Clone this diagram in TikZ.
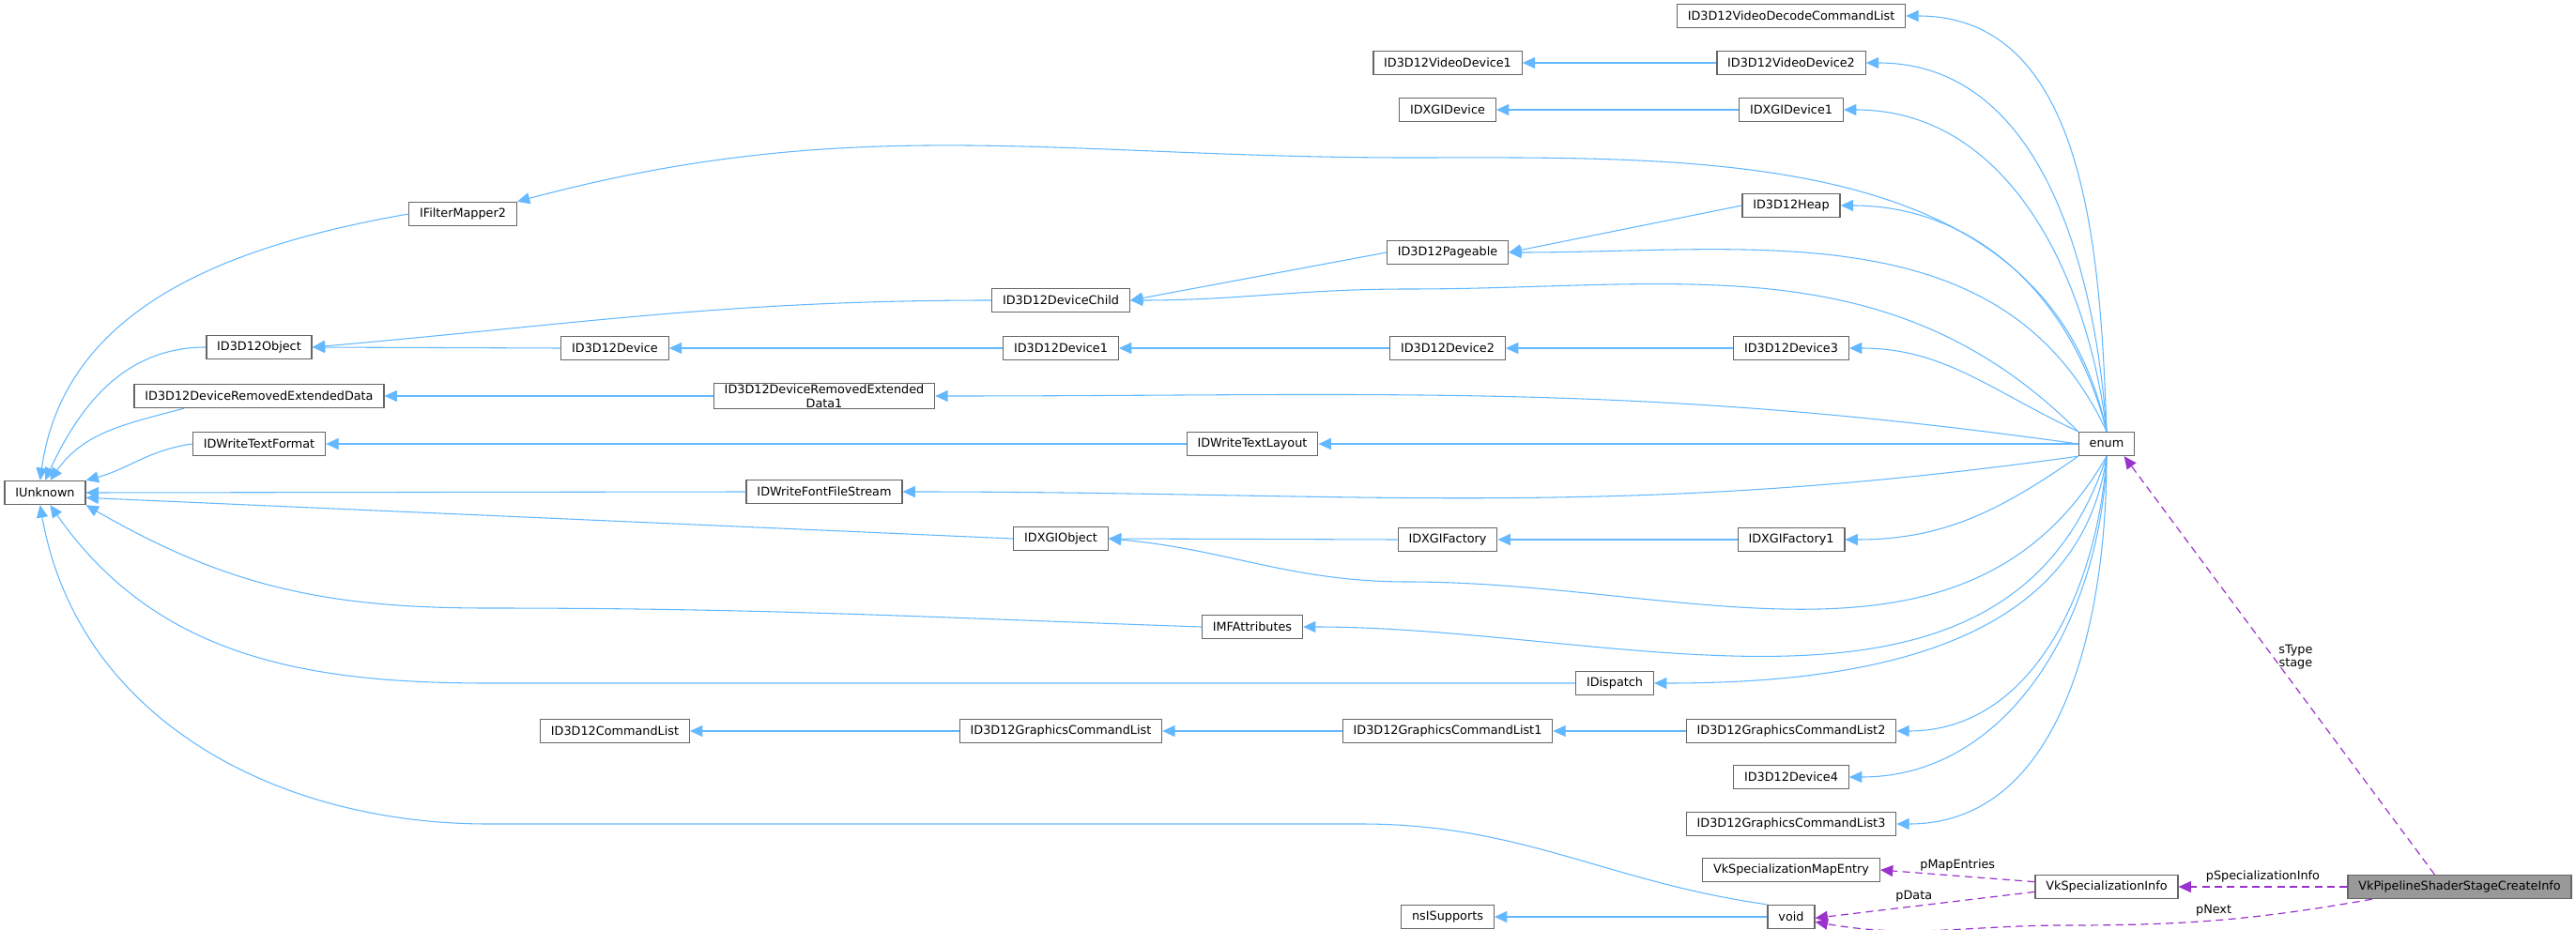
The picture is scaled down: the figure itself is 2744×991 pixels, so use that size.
\documentclass[tikz,border=0pt]{standalone}
\usepackage{fontspec}
\setmainfont{DejaVu Sans}
\usetikzlibrary{arrows.meta}
\definecolor{edgeblue}{HTML}{63B8FF}
\definecolor{usepurple}{HTML}{9A32CD}
\definecolor{boxgray}{HTML}{666666}
\definecolor{selgray}{HTML}{999999}
\begin{document}
\begin{tikzpicture}[x=0.75pt, y=-0.75pt,
    cls/.style={draw=boxgray, line width=1pt, fill=white, font=\fontsize{9.6}{11}\selectfont,
        minimum height=18.75pt, inner xsep=8.5pt, inner ysep=1pt, align=center},
    inh/.style={draw=edgeblue, line width=0.8pt, -{Triangle[width=9pt,length=10pt]}},
    use/.style={draw=usepurple, line width=0.9pt, dashed, dash pattern=on 6pt off 4pt,
        -{Triangle[width=9pt,length=10pt]}},
    lbl/.style={font=\fontsize{9.6}{11}\selectfont, align=center}]
    \useasboundingbox (0,0) rectangle (2744,991);

    % class boxes
    \node[cls] (unk) at (48,525) {IUnknown};
    \node[cls] (fm2) at (493,228) {IFilterMapper2};
    \node[cls] (obj) at (276,370) {ID3D12Object};
    \node[cls] (dred) at (276,422) {ID3D12DeviceRemovedExtendedData};
    \node[cls] (tf) at (276,473) {IDWriteTextFormat};
    \node[cls] (dev) at (655,371) {ID3D12Device};
    \node[cls] (cl) at (655,779) {ID3D12CommandList};
    \node[cls] (dred1) at (878,422) {ID3D12DeviceRemovedExtended\\Data1};
    \node[cls] (ffs) at (878,524) {IDWriteFontFileStream};
    \node[cls] (child) at (1130,320) {ID3D12DeviceChild};
    \node[cls] (dev1) at (1130,371) {ID3D12Device1};
    \node[cls] (dxgiobj) at (1130,574) {IDXGIObject};
    \node[cls] (gcl) at (1130,779) {ID3D12GraphicsCommandList};
    \node[cls] (tl) at (1334,473) {IDWriteTextLayout};
    \node[cls] (imf) at (1334,668) {IMFAttributes};
    \node[cls] (vd1) at (1542,67) {ID3D12VideoDevice1};
    \node[cls] (dxgid) at (1542,117) {IDXGIDevice};
    \node[cls] (page) at (1542,269) {ID3D12Pageable};
    \node[cls] (dev2) at (1542,371) {ID3D12Device2};
    \node[cls] (dxgif) at (1542,575) {IDXGIFactory};
    \node[cls] (gcl1) at (1542,779) {ID3D12GraphicsCommandList1};
    \node[cls] (nss) at (1542,977) {nsISupports};
    \node[cls] (disp) at (1720,728) {IDispatch};
    \node[cls] (vdcl) at (1908,17) {ID3D12VideoDecodeCommandList};
    \node[cls] (vd2) at (1908,67) {ID3D12VideoDevice2};
    \node[cls] (dxgid1) at (1908,117) {IDXGIDevice1};
    \node[cls] (heap) at (1908,219) {ID3D12Heap};
    \node[cls] (dev3) at (1908,371) {ID3D12Device3};
    \node[cls] (dxgif1) at (1908,575) {IDXGIFactory1};
    \node[cls] (gcl2) at (1908,779) {ID3D12GraphicsCommandList2};
    \node[cls] (dev4) at (1908,828) {ID3D12Device4};
    \node[cls] (gcl3) at (1908,878) {ID3D12GraphicsCommandList3};
    \node[cls] (sme) at (1908,927) {VkSpecializationMapEntry};
    \node[cls] (void) at (1908,977) {void};
    \node[cls] (enum) at (2244,473) {enum};
    \node[cls] (si) at (2244,945) {VkSpecializationInfo};
    \node[cls, fill=selgray] (pssci) at (2620,945) {VkPipelineShaderStageCreateInfo};

    % inheritance into IUnknown
    \draw[inh] (fm2.west) to[out=190,in=82] ([xshift=-4pt]unk.north);
    \draw[inh] (obj.west) to[out=180,in=65] ([xshift=0pt]unk.north);
    \draw[inh] ([xshift=-60pt]dred.south) to[out=195,in=55] ([xshift=4pt]unk.north);
    \draw[inh] (tf.west) to[out=188,in=15] (unk.north east);
    \draw[inh] (ffs.west) -- (unk.east);
    \draw[inh] (dxgiobj.west) -- ([yshift=-4pt]unk.east);
    \draw[inh] (imf.west) to[out=178,in=0] (520,648) to[out=180,in=-30] (unk.south east);
    \draw[inh] (disp.west) -- (520,728) to[out=180,in=-55] ([xshift=4pt]unk.south);
    \draw[inh] (void.north west) to[out=172,in=0] (1450,878) -- (520,878)
        to[out=180,in=-80] ([xshift=-4pt]unk.south);

    % inheritance chains
    \draw[inh] (child.west) to[out=180,in=5] (obj.east);
    \draw[inh] (dev.west) -- (obj.east);
    \draw[inh] (dred1.west) -- (dred.east);
    \draw[inh] (tl.west) -- (tf.east);
    \draw[inh] (dev1.west) -- (dev.east);
    \draw[inh] (dev2.west) -- (dev1.east);
    \draw[inh] (dev3.west) -- (dev2.east);
    \draw[inh] (page.west) -- (child.east);
    \draw[inh] (heap.west) -- (page.east);
    \draw[inh] (dxgif.west) -- (dxgiobj.east);
    \draw[inh] (dxgif1.west) -- (dxgif.east);
    \draw[inh] (gcl.west) -- (cl.east);
    \draw[inh] (gcl1.west) -- (gcl.east);
    \draw[inh] (gcl2.west) -- (gcl1.east);
    \draw[inh] (vd2.west) -- (vd1.east);
    \draw[inh] (dxgid1.west) -- (dxgid.east);
    \draw[inh] (void.west) -- (nss.east);

    % enum fan
    \draw[inh] (enum.north) to[out=92,in=0] (vdcl.east);
    \draw[inh] (enum.north) to[out=94,in=0] (vd2.east);
    \draw[inh] (enum.north) to[out=97,in=0] (dxgid1.east);
    \draw[inh] (enum.north) to[out=102,in=0] (1500,168) to[out=180,in=15] (fm2.north east);
    \draw[inh] (enum.north) to[out=104,in=0] (heap.east);
    \draw[inh] (enum.north) to[out=115,in=0] (page.east);
    \draw[inh] (enum.north west) to[out=135,in=0] (1500,308) to[out=180,in=0] (child.east);
    \draw[inh] (enum.north west) to[out=155,in=0] (dev3.east);
    \draw[inh] (enum.west) to[out=172,in=0] (dred1.east);
    \draw[inh] (enum.west) -- (tl.east);
    \draw[inh] (enum.south west) to[out=188,in=0] (ffs.east);
    \draw[inh] (enum.south west) to[out=215,in=0] (dxgif1.east);
    \draw[inh] (enum.south) to[out=240,in=0] (1500,620) to[out=180,in=-5] (dxgiobj.east);
    \draw[inh] (enum.south) to[out=252,in=0] (imf.east);
    \draw[inh] (enum.south) to[out=262,in=0] (disp.east);
    \draw[inh] (enum.south) to[out=266,in=0] (gcl2.east);
    \draw[inh] (enum.south) to[out=268,in=0] (dev4.east);
    \draw[inh] (enum.south) to[out=270,in=0] (gcl3.east);

    % member usage
    \draw[use] ([xshift=-20pt]pssci.north) -- node[lbl, pos=0.52, xshift=18pt] {sType\\stage} ([xshift=14pt]enum.south);
    \draw[use] (pssci.west) -- node[lbl, above, pos=0.5] {pSpecializationInfo} (si.west -| si.east);
    \draw[use] ([yshift=4pt]si.west) -- node[lbl, above] {pMapEntries} (sme.east);
    \draw[use] ([yshift=-4pt]si.west) -- node[lbl, above, pos=0.55] {pData} ([yshift=-1pt]void.east);
    \draw[use] ([xshift=-70pt]pssci.south) to[out=190,in=0]
        node[lbl, above, pos=0.52] {pNext} (2200,986) to[out=180,in=-10] ([yshift=-4pt]void.east);
\end{tikzpicture}
\end{document}
